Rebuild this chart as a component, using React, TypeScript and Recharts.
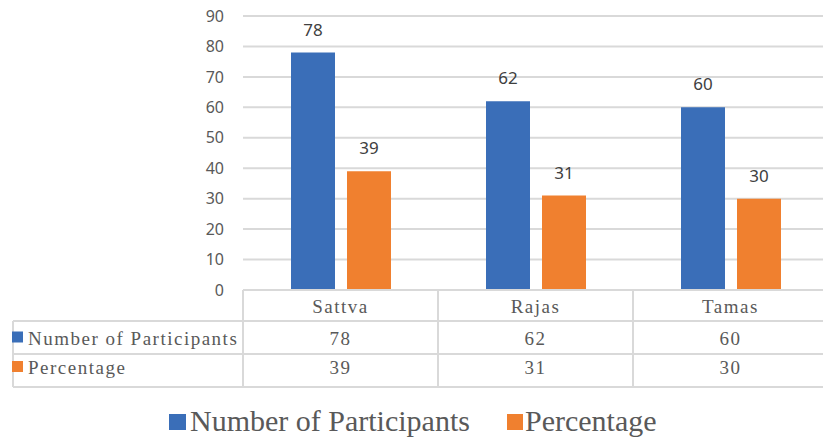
import { Bar, BarChart, CartesianGrid, LabelList, XAxis, YAxis } from "recharts";

const categories = ["Sattva", "Rajas", "Tamas"];
const participants = [78, 62, 60];
const percentage = [39, 31, 30];
const yTicks = [0, 10, 20, 30, 40, 50, 60, 70, 80, 90];
const seriesNames = ["Number of Participants", "Percentage"];
const seriesColors = ["#3A6EB8", "#F0802F"];

const data = categories.map((name, i) => ({
  name,
  participants: participants[i],
  percentage: percentage[i]
}));

const LINE = "#d9d9d9";
const SERIF = "Liberation Serif, DejaVu Serif, serif";
const SANS = "Noto Sans, Open Sans, sans-serif";
const TEXT = "#595959";

// header row, then one row per series
const rowBottoms = [31, 64, 97];
const rowBaselines = [22.5, 54.5, 84];

const cellText = { fontFamily: SERIF, fontSize: 19, letterSpacing: 1.5, fill: TEXT };
const legendText = { fontFamily: SERIF, fontSize: 30, fill: TEXT };

function TableTick(props: any) {
  const { x, y, payload, index } = props;
  const half = payload?.offset ?? 97.6;
  const left = x - half;
  const right = x + half;
  const i = payload?.index ?? index;
  const rows = [participants, percentage];

  return (
    <g>
      {[0, ...rowBottoms].map((dy) => (
        <line key={dy} x1={left} x2={right} y1={y + dy} y2={y + dy} stroke={LINE} strokeWidth={2} />
      ))}
      <line x1={left} x2={left} y1={y} y2={y + 97} stroke={LINE} strokeWidth={2} />
      <line x1={right} x2={right} y1={y} y2={y + 97} stroke={LINE} strokeWidth={2} />
      <text x={x} y={y + rowBaselines[0]} textAnchor="middle" style={cellText}>
        {payload.value}
      </text>
      {rows.map((vals, r) => (
        <text key={r} x={x} y={y + rowBaselines[r + 1]} textAnchor="middle" style={cellText}>
          {vals[i]}
        </text>
      ))}
      {i === 0 && (
        <g>
          {rowBottoms.map((dy) => (
            <line key={dy} x1={13} x2={left} y1={y + dy} y2={y + dy} stroke={LINE} strokeWidth={2} />
          ))}
          <line x1={13} x2={13} y1={y + 31} y2={y + 97} stroke={LINE} strokeWidth={2} />
          {seriesNames.map((name, r) => (
            <g key={name}>
              <rect x={12} y={y + rowBaselines[r + 1] - 13} width={11} height={11} fill={seriesColors[r]} />
              <text x={28} y={y + rowBaselines[r + 1]} style={cellText}>
                {name}
              </text>
            </g>
          ))}
          {/* legend */}
          <rect x={169} y={y + 124} width={17} height={16} fill={seriesColors[0]} />
          <text x={190} y={y + 141} style={legendText}>
            {seriesNames[0]}
          </text>
          <rect x={507} y={y + 124} width={16} height={16} fill={seriesColors[1]} />
          <text x={525} y={y + 141} style={legendText}>
            {seriesNames[1]}
          </text>
        </g>
      )}
    </g>
  );
}

export default function App() {
  return (
    <div style={{ width: 823, height: 438, overflow: "hidden", background: "#fff" }}>
      <style>{"body{margin:0}"}</style>
      <BarChart
        width={830}
        height={438}
        data={data}
        margin={{ top: 16, right: 2, left: 0, bottom: 0 }}
        barSize={44}
        barGap={12}
      >
        <CartesianGrid vertical={false} stroke={LINE} strokeWidth={2} />
        <XAxis
          dataKey="name"
          height={148}
          axisLine={false}
          tickLine={false}
          tickSize={0}
          tickMargin={0}
          interval={0}
          tick={<TableTick />}
        />
        <YAxis
          width={243}
          domain={[0, 90]}
          ticks={yTicks}
          axisLine={false}
          tickLine={false}
          tickSize={0}
          tickMargin={19}
          tick={{ fill: TEXT, fontSize: 16, fontFamily: SANS }}
        />
        <Bar dataKey="participants" name={seriesNames[0]} fill={seriesColors[0]} isAnimationActive={false}>
          <LabelList dataKey="participants" position="top" offset={17} fill="#404040" fontSize={17} fontFamily={SANS} />
        </Bar>
        <Bar dataKey="percentage" name={seriesNames[1]} fill={seriesColors[1]} isAnimationActive={false}>
          <LabelList dataKey="percentage" position="top" offset={17} fill="#404040" fontSize={17} fontFamily={SANS} />
        </Bar>
      </BarChart>
    </div>
  );
}
